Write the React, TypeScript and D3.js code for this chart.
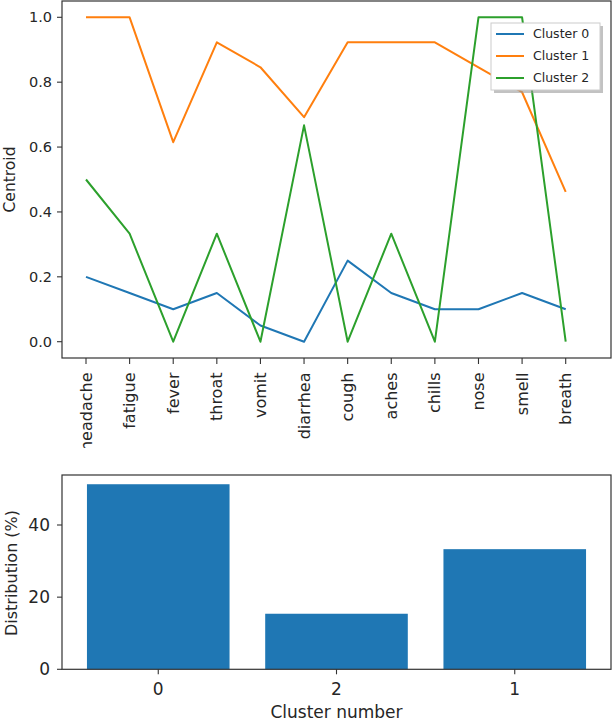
import React from 'react';
import * as d3 from 'd3';

const symptoms = ['headache', 'fatigue', 'fever', 'throat', 'vomit', 'diarrhea', 'cough', 'aches', 'chills', 'nose', 'smell', 'breath'];
const cluster0 = [0.2, 0.15, 0.1, 0.15, 0.05, 0.0, 0.25, 0.15, 0.1, 0.1, 0.15, 0.1];
const cluster1 = [1.0, 1.0, 0.615, 0.923, 0.846, 0.692, 0.923, 0.923, 0.923, 0.846, 0.769, 0.462];
const cluster2 = [0.5, 0.333, 0.0, 0.333, 0.0, 0.667, 0.0, 0.333, 0.0, 1.0, 1.0, 0.0];
const seriesNames = ['Cluster 0', 'Cluster 1', 'Cluster 2'];
const seriesColors = ['#1f77b4', '#ff7f0e', '#2ca02c'];
const centroidTicks = [0, 0.2, 0.4, 0.6, 0.8, 1.0];

const clusterLabels = ['0', '2', '1'];
const distribution = [51.3, 15.4, 33.3];
const distTicks = [0, 20, 40];

const FONT = '"DejaVu Sans", sans-serif';
const TXT = '#262626';

export default function App() {
  // top chart geometry
  const tL = 62, tR = 611, tT = 1, tB = 358;
  const x = d3.scaleLinear().domain([0, symptoms.length - 1]).range([86, 565.7]);
  const y = d3.scaleLinear().domain([0, 1]).range([341.7, 17.3]);
  const line = d3.line<number>().x((_, i) => x(i)).y(d => y(d));
  const series = [cluster0, cluster1, cluster2];

  // bottom chart geometry
  const bL = 62, bR = 611, bT = 475, bB = 669.3;
  const xb = d3.scaleLinear().domain([-0.54, 2.54]).range([bL, bR]);
  const yb = d3.scaleLinear().domain([0, 40]).range([669.3, 525]);
  const barW = xb(0.4) - xb(-0.4);

  return (
    <svg width={614} height={722} style={{ position: 'absolute', left: 0, top: 0, background: '#fff' }}>
      <defs>
        <clipPath id="topfig"><rect x={0} y={0} width={614} height={448} /></clipPath>
      </defs>
      <g clipPath="url(#topfig)" fontFamily={FONT} fill={TXT}>
        {series.map((s, k) => (
          <path key={k} d={line(s) || ''} fill="none" stroke={seriesColors[k]} strokeWidth={2} strokeLinejoin="round" />
        ))}
        <rect x={tL} y={tT} width={tR - tL} height={tB - tT} fill="none" stroke="#333" strokeWidth={1.2} />
        {centroidTicks.map(t => (
          <g key={t}>
            <line x1={tL - 5} x2={tL} y1={y(t)} y2={y(t)} stroke="#333" strokeWidth={1.1} />
            <text x={tL - 10} y={y(t)} dy="0.35em" textAnchor="end" fontSize={14.5}>{t.toFixed(1)}</text>
          </g>
        ))}
        {symptoms.map((s, i) => (
          <g key={s}>
            <line x1={x(i)} x2={x(i)} y1={tB} y2={tB + 6} stroke="#333" strokeWidth={1.1} />
            <text transform={`translate(${x(i)},${tB + 14.5}) rotate(-90)`} dy="0.35em" textAnchor="end" fontSize={16}>{s}</text>
          </g>
        ))}
        <text transform={`translate(10,${(tT + tB) / 2}) rotate(-90)`} dy="0.35em" textAnchor="middle" fontSize={15.5}>Centroid</text>
        {/* legend */}
        <rect x={494} y={26} width={109} height={67} fill="#999" opacity={0.6} />
        <rect x={491} y={23} width={109} height={67} fill="#fff" stroke="#ccc" strokeWidth={1} />
        {seriesNames.map((n, k) => (
          <g key={n}>
            <line x1={496} x2={524} y1={34 + k * 22} y2={34 + k * 22} stroke={seriesColors[k]} strokeWidth={2} />
            <text x={533} y={34 + k * 22} dy="0.35em" fontSize={12.5}>{n}</text>
          </g>
        ))}
      </g>

      <g fontFamily={FONT} fill={TXT}>
        {distribution.map((v, i) => (
          <rect key={i} x={xb(i) - barW / 2} y={yb(v)} width={barW} height={yb(0) - yb(v)} fill="#1f77b4" />
        ))}
        <rect x={bL} y={bT} width={bR - bL} height={bB - bT} fill="none" stroke="#333" strokeWidth={1.2} />
        {distTicks.map(t => (
          <g key={t}>
            <line x1={bL - 5} x2={bL} y1={yb(t)} y2={yb(t)} stroke="#333" strokeWidth={1.1} />
            <text x={bL - 12} y={yb(t)} dy="0.35em" textAnchor="end" fontSize={17}>{t}</text>
          </g>
        ))}
        {clusterLabels.map((c, i) => (
          <g key={c}>
            <line x1={xb(i)} x2={xb(i)} y1={bB} y2={bB + 5} stroke="#333" strokeWidth={1.1} />
            <text x={xb(i)} y={695} textAnchor="middle" fontSize={17}>{c}</text>
          </g>
        ))}
        <text x={(bL + bR) / 2} y={718} textAnchor="middle" fontSize={17}>Cluster number</text>
        <text transform={`translate(11,573) rotate(-90)`} dy="0.35em" textAnchor="middle" fontSize={16}>Distribution (%)</text>
      </g>
    </svg>
  );
}
